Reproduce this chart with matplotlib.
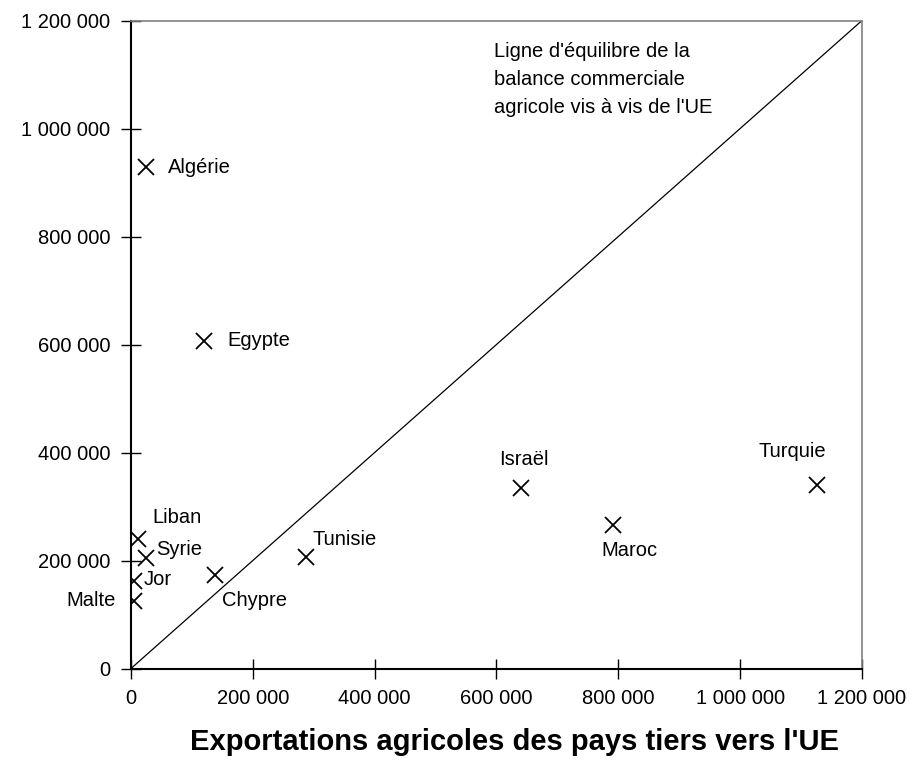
import matplotlib
matplotlib.use("Agg")
import matplotlib.pyplot as plt

plt.rcParams['font.family'] = ['Liberation Sans', 'DejaVu Sans']

# exportations vers l'UE (x) / importations depuis l'UE (y)
pays = ['Algérie', 'Egypte', 'Liban', 'Syrie', 'Jor', 'Malte', 'Chypre',
        'Tunisie', 'Israël', 'Maroc', 'Turquie']
export_ue = [24000, 120000, 12000, 24000, 5000, 5000, 138000,
             288000, 640000, 791000, 1126000]
import_ue = [928000, 607000, 239000, 204000, 162000, 125000, 173000,
             207000, 335000, 266000, 340000]

# position des etiquettes (decalage en pixels, alignement)
decal = {'Algérie': (22, 0, 'left'), 'Egypte': (23, 0, 'left'),
         'Liban': (14, 22, 'left'), 'Syrie': (11, 9, 'left'),
         'Jor': (10, 2, 'left'), 'Malte': (-18, 0, 'right'),
         'Chypre': (7, -25, 'left'), 'Tunisie': (6, 17, 'left'),
         'Israël': (3, 28, 'center'), 'Maroc': (17, -26, 'center'),
         'Turquie': (-25, 33, 'center')}

ticks = [0, 200000, 400000, 600000, 800000, 1000000, 1200000]
fmt = lambda v: f"{v:,}".replace(",", " ")
fs = 14.5

fig = plt.figure(figsize=(9.17, 7.78), dpi=100)
ax = fig.add_axes([131/917, 1-668.5/778, 731/917, 648/778])

ax.plot([0, 1200000], [0, 1200000], color='black', lw=0.9)
ax.plot(export_ue, import_ue, 'x', color='black', ms=12, mew=1.3)

for p, xv, yv in zip(pays, export_ue, import_ue):
    dx, dy, ha = decal[p]
    ax.annotate(p, (xv, yv), xytext=(dx, dy), textcoords='offset pixels',
                ha=ha, va='center', fontsize=fs)

ax.text(0.497, 0.967, "Ligne d'équilibre de la\nbalance commerciale\nagricole vis à vis de l'UE",
        transform=ax.transAxes, ha='left', va='top', fontsize=fs, linespacing=1.6)

ax.set_xlim(0, 1200000)
ax.set_ylim(0, 1200000)
ax.set_xticks(ticks)
ax.set_yticks(ticks)
ax.set_xticklabels([fmt(t) for t in ticks], fontsize=fs)
ax.set_yticklabels([fmt(t) for t in ticks], fontsize=fs)
ax.tick_params(direction='inout', length=14, width=1, pad=8)
ax.tick_params(axis='y', pad=8)

for s in ['left', 'bottom']:
    ax.spines[s].set_linewidth(1.5)
    ax.spines[s].set_color('black')
for s in ['top', 'right']:
    ax.spines[s].set_linewidth(1.2)
    ax.spines[s].set_color('#808080')

fig.text(514/917, 1-742/778, "Exportations agricoles des pays tiers vers l'UE",
         ha='center', va='center', fontsize=21, fontweight='bold')

fig.savefig('out.png', dpi=100)
